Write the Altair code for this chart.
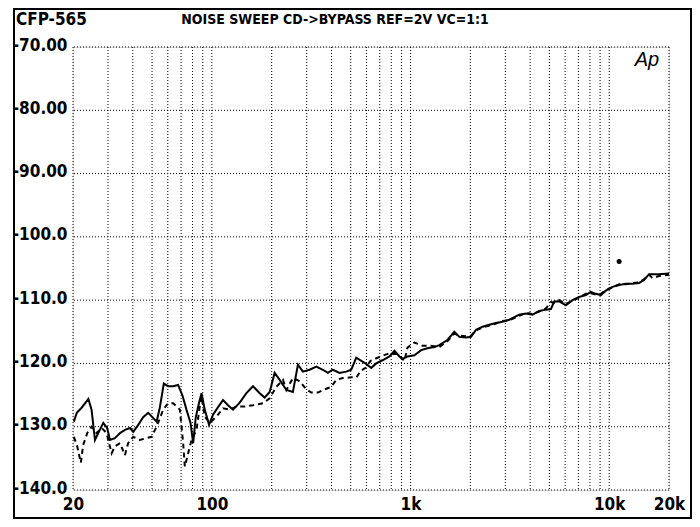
import altair as alt
import pandas as pd

# ---- data ----
solid_freq = [20.2, 20.9, 22.1, 23.9, 24.8, 25.8, 27.3, 28.4, 29.7, 30.7, 32.5, 34.5, 36.5, 38.7,
              40.2, 42.6, 45.1, 47.8, 50.6, 52.7, 54.7, 57.3, 60.2, 63.8, 67.6, 71.2, 74.5, 78.1,
              80.5, 83.0, 86.2, 88.7, 92.1, 96.8, 101.4, 107.4, 113.8, 120.6, 127.8, 138.1, 149.2,
              161.1, 174.1, 184.4, 195.4, 207, 219.4, 237.2, 255.8, 271.1, 287.3, 310.5, 335.5,
              362, 383.6, 406.4, 439.3, 474.8, 503, 533, 586.7, 634, 671.8, 722.6, 783.5, 830.2,
              879.6, 910.8, 965, 1046, 1131, 1216, 1319, 1397, 1533, 1662, 1761, 1902, 2016, 2136,
              2306, 2492, 2692, 2906, 3141, 3526, 3811, 4112, 4444, 4804, 5090, 5288, 5602, 6054,
              6536, 7058, 7628, 8084, 8566, 9076, 9616, 10380, 11216, 12120, 13080, 14138, 14978,
              15870, 17816, 20000]
solid_db = [-129.2, -127.8, -127.0, -125.6, -127.3, -132.1, -130.5, -129.4, -130.2, -132.1, -131.8,
            -131.0, -130.5, -130.2, -130.8, -129.7, -128.5, -127.8, -128.6, -129.2, -127.0, -123.2,
            -123.6, -123.6, -123.4, -125.1, -127.3, -129.4, -132.6, -128.5, -126.2, -124.7, -127.3,
            -129.7, -128.1, -126.9, -125.8, -126.6, -127.3, -126.2, -124.7, -123.6, -124.7, -125.4,
            -124.5, -121.5, -122.6, -124.2, -124.5, -120.2, -121.3, -121.0, -120.5, -121.0, -121.5,
            -121.0, -121.5, -121.3, -121.0, -119.1, -119.9, -120.7, -120.0, -119.5, -118.9, -118.0,
            -118.9, -119.3, -118.9, -118.7, -117.9, -117.6, -117.4, -117.1, -116.3, -115.0, -115.8,
            -115.9, -115.8, -114.7, -114.2, -113.9, -113.6, -113.4, -113.1, -112.3, -112.1, -112.3,
            -111.7, -111.5, -111.4, -110.2, -110.2, -110.8, -110.0, -109.5, -109.2, -108.7, -109.0,
            -109.2, -108.5, -107.9, -107.6, -107.4, -107.4, -107.3, -106.8, -105.9, -105.9, -105.8]

dashed_freq = [20.2, 21.0, 21.9, 22.5, 23.6, 24.8, 26.3, 27.9, 29.5, 31.3, 32.5, 34.5, 36.5, 37.9,
               40.2, 43.4, 46.9, 49.7, 52.7, 56.9, 60.2, 63.8, 69.0, 71.7, 73.1, 79.0, 83.7, 86.9,
               88.7, 92.1, 97.6, 105.5, 113.8, 123.0, 132.9, 146.3, 161.1, 180.9, 195.4, 211.2,
               228, 237.2, 255.8, 276.4, 298.9, 316.6, 341.8, 369.4, 399, 422.7, 456.4, 504.6,
               534.8, 560.2, 593.6, 629, 682, 765.6, 859.6, 932, 965, 1046, 1148, 1266, 1397,
               1533, 1662, 1761, 1902, 2016, 2136, 2306, 2492, 2692, 2906, 3141, 3526, 3811, 4112,
               4444, 4804, 5090, 5288, 5602, 6054, 6536, 7058, 7628, 8084, 8566, 9076, 9616, 10380,
               11216, 12120, 13080, 14138, 14978, 15870, 16500, 17816, 20000]
dashed_db = [-131.6, -133.1, -135.7, -132.9, -131.0, -130.0, -131.0, -130.2, -131.0, -134.2, -133.1,
             -132.6, -134.5, -132.6, -131.6, -132.1, -131.8, -131.6, -130.0, -127.3, -126.3, -126.3,
             -127.3, -132.6, -136.3, -132.1, -130.5, -126.8, -125.2, -128.4, -129.4, -128.4, -127.1,
             -127.3, -126.8, -126.8, -126.6, -126.3, -125.5, -123.7, -122.6, -124.2, -122.3, -122.8,
             -124.1, -124.6, -124.6, -124.1, -123.7, -122.6, -122.3, -122.2, -122.2, -121.2, -120.7,
             -119.6, -119.1, -118.5, -118.5, -119.6, -117.5, -116.7, -117.2, -117.2, -117.4, -116.5,
             -115.3, -115.6, -115.7, -115.6, -114.8, -114.3, -114.0, -113.7, -113.3, -113.2, -112.5,
             -112.0, -112.2, -111.8, -111.3, -110.3, -110.4, -110.0, -110.6, -110.1, -109.6, -109.0,
             -108.9, -109.1, -109.0, -108.4, -108.0, -107.5, -107.5, -107.3, -107.2, -106.7, -106.0,
             -106.5, -106.2, -106.0]

dot_freq = [11216]
dot_db = [-103.9]

x_grid = [20, 30, 40, 50, 60, 70, 80, 90, 100, 200, 300, 400, 500, 600, 700, 800, 900,
          1000, 2000, 3000, 4000, 5000, 6000, 7000, 8000, 9000, 10000, 20000]
y_grid = [-70, -80, -90, -100, -110, -120, -130, -140]
x_ticks = [20, 100, 1000, 10000, 20000]

title_left = "CFP-565"
title_main = "NOISE SWEEP CD->BYPASS REF=2V VC=1:1"
badge = "Ap"

FONT = "'DejaVu Sans Condensed', 'DejaVu Sans Mono', monospace"
W, H = 596, 443

xscale = alt.Scale(type="log", domain=[20, 20000], nice=False)
yscale = alt.Scale(domain=[-140, -70], nice=False)

xaxis = alt.Axis(values=x_ticks, grid=False, domain=False, ticks=False, title=None,
                 labelExpr="datum.value >= 1000 ? format(datum.value/1000, 'd') + 'k' : format(datum.value, 'd')",
                 labelFont=FONT, labelFontSize=17, labelFontWeight="bold", labelColor="black",
                 labelPadding=6, labelFlush=False, labelOverlap=False)
yaxis = alt.Axis(values=y_grid, grid=False, domain=False, ticks=False, title=None,
                 labelExpr="datum.value >= -90 ? '-' + format(-datum.value, '.2f') : '-' + format(-datum.value, '.1f')",
                 labelFont=FONT, labelFontSize=17, labelFontWeight="bold", labelColor="black",
                 labelPadding=6, labelOffset=-2, labelFlush=False, labelOverlap=False)

solid_df = pd.DataFrame({"f": solid_freq, "db": solid_db})
dashed_df = pd.DataFrame({"f": dashed_freq, "db": dashed_db})
dot_df = pd.DataFrame({"f": dot_freq, "db": dot_db})
xg_df = pd.DataFrame({"f": x_grid})
yg_df = pd.DataFrame({"db": y_grid})
one = pd.DataFrame({"a": [0]})

frame = alt.Chart(one).mark_rect(filled=False, stroke="black", strokeWidth=2).encode(
    x=alt.value(-59), x2=alt.value(618), y=alt.value(-38), y2=alt.value(471))

hgrid = alt.Chart(yg_df).mark_rule(color="black", strokeWidth=1, strokeDash=[1, 2]).encode(
    y=alt.Y("db:Q", scale=yscale, axis=yaxis))
vgrid = alt.Chart(xg_df).mark_rule(color="black", strokeWidth=1, strokeDash=[1, 2]).encode(
    x=alt.X("f:Q", scale=xscale, axis=xaxis))

dashed = alt.Chart(dashed_df).mark_line(color="black", strokeWidth=2, strokeDash=[5, 4]).encode(
    x=alt.X("f:Q", scale=xscale, axis=xaxis), y=alt.Y("db:Q", scale=yscale, axis=yaxis))
solid = alt.Chart(solid_df).mark_line(color="black", strokeWidth=2).encode(
    x=alt.X("f:Q", scale=xscale, axis=xaxis), y=alt.Y("db:Q", scale=yscale, axis=yaxis))
dot = alt.Chart(dot_df).mark_point(filled=True, color="black", size=25, opacity=1).encode(
    x=alt.X("f:Q", scale=xscale, axis=xaxis), y=alt.Y("db:Q", scale=yscale, axis=yaxis))

t_left = alt.Chart(pd.DataFrame({"t": [title_left]})).mark_text(
    font=FONT, fontSize=17, fontWeight="bold", align="left", baseline="middle", color="black").encode(
    x=alt.value(-57), y=alt.value(-27), text="t:N")
t_main = alt.Chart(pd.DataFrame({"t": [title_main]})).mark_text(
    font=FONT, fontSize=14, fontWeight="bold", align="center", baseline="middle", color="black").encode(
    x=alt.value(262), y=alt.value(-27), text="t:N")
t_badge = alt.Chart(pd.DataFrame({"t": [badge]})).mark_text(
    font="Liberation Sans", fontSize=20, fontStyle="italic", align="center", baseline="middle", color="black").encode(
    x=alt.value(574), y=alt.value(13), text="t:N")

chart = alt.layer(frame, hgrid, vgrid, dashed, solid, dot, t_left, t_main, t_badge).properties(
    width=W, height=H, autosize=alt.AutoSizeParams(type="none"),
    padding={"left": 65, "top": 39, "right": 23, "bottom": 29}
).configure_view(stroke=None).configure(background="white")

chart.save("out.html", embed_options={"renderer": "svg", "actions": False})
